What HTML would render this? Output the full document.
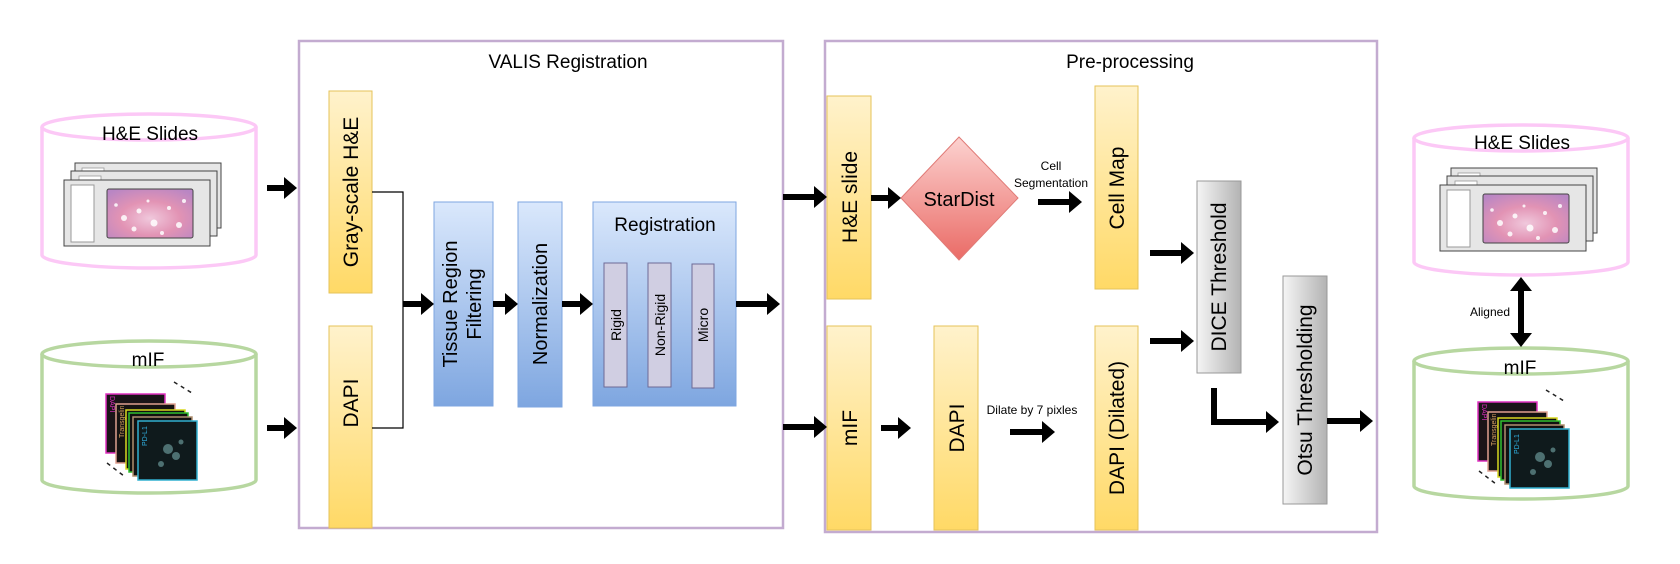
<!DOCTYPE html>
<html><head><meta charset="utf-8"><style>
html,body{margin:0;padding:0;background:#fff;}
svg{display:block;font-family:"Liberation Sans",Arial,sans-serif;}
</style></head><body>
<svg width="1680" height="564" viewBox="0 0 1680 564" xmlns="http://www.w3.org/2000/svg">
<defs>
<linearGradient id="yel" x1="0" y1="0" x2="0" y2="1"><stop offset="0" stop-color="#fff2cc"/><stop offset="1" stop-color="#ffd966"/></linearGradient>
<linearGradient id="blu" x1="0" y1="0" x2="0" y2="1"><stop offset="0" stop-color="#dae8fc"/><stop offset="1" stop-color="#7ea6e0"/></linearGradient>
<linearGradient id="gry" x1="0" y1="0" x2="1" y2="0"><stop offset="0" stop-color="#f5f5f5"/><stop offset="1" stop-color="#b3b3b3"/></linearGradient>
<linearGradient id="red" x1="0" y1="0" x2="0" y2="1"><stop offset="0" stop-color="#fcd2d0"/><stop offset="1" stop-color="#ea6b66"/></linearGradient>
<radialGradient id="tis" cx="0.5" cy="0.6" r="0.7"><stop offset="0" stop-color="#f0c8dc"/><stop offset="0.5" stop-color="#e293b4"/><stop offset="1" stop-color="#b986c4"/></radialGradient>
<g id="slides">
  <rect x="11" y="0" width="146" height="65" fill="#e6e6e6" stroke="#444" stroke-width="1"/>
  <rect x="18" y="5" width="22" height="5" fill="#fff" stroke="#999" stroke-width="0.8"/>
  <rect x="7" y="8" width="146" height="65" fill="#e6e6e6" stroke="#444" stroke-width="1"/>
  <rect x="15" y="13" width="22" height="5" fill="#fff" stroke="#999" stroke-width="0.8"/>
  <rect x="0" y="17" width="146" height="66" fill="#e6e6e6" stroke="#444" stroke-width="1"/>
  <rect x="7" y="22" width="23" height="57" fill="#fff" stroke="#999" stroke-width="1"/>
  <rect x="43" y="26" width="86" height="49" rx="2" fill="url(#tis)" stroke="#444" stroke-width="1"/>
  <g fill="#fff" opacity="0.85">
    <circle cx="60" cy="55" r="3"/><circle cx="75" cy="48" r="2.5"/><circle cx="90" cy="60" r="3.5"/><circle cx="105" cy="45" r="2"/><circle cx="115" cy="62" r="3"/><circle cx="70" cy="66" r="2.5"/><circle cx="98" cy="70" r="2"/><circle cx="120" cy="38" r="2"/><circle cx="52" cy="42" r="1.8"/><circle cx="84" cy="38" r="1.5"/>
  </g>
</g>
<g id="mif">
  <rect x="0" y="0" width="59" height="59" fill="#1a1418" stroke="#e030c0" stroke-width="1.5"/>
  <text transform="translate(4,2) rotate(90)" font-size="7" fill="#e030c0">DAPI</text>
  <rect x="10" y="10" width="59" height="59" fill="#151212" stroke="#e0a090" stroke-width="1.5"/>
  <text transform="translate(18,44) rotate(-90)" font-size="7" fill="#d8a060">Transgelin</text>
  <rect x="20" y="16" width="59" height="59" fill="#111" stroke="#d8d820" stroke-width="1.5"/>
  <rect x="23" y="19" width="59" height="59" fill="#111" stroke="#30c030" stroke-width="1.5"/>
  <rect x="27" y="23" width="59" height="59" fill="#111" stroke="#b09070" stroke-width="1.5"/>
  <rect x="32" y="27" width="59" height="59" fill="#0f1a1c" stroke="#30b0d0" stroke-width="1.5"/>
  <text transform="translate(41,52) rotate(-90)" font-size="7" fill="#30b0e0">PD-L1</text>
  <g fill="#7aa" opacity="0.6"><circle cx="62" cy="55" r="5"/><circle cx="70" cy="62" r="4"/><circle cx="55" cy="70" r="3"/><circle cx="75" cy="48" r="2.5"/></g>
  <g stroke="#222" stroke-width="1.5" stroke-dasharray="4,4"><line x1="68" y1="-12" x2="86" y2="-1"/><line x1="1" y1="69" x2="18" y2="82"/></g>
</g>
</defs>

<!-- Left cylinders -->
<g fill="none" stroke="#fcc8f6" stroke-width="3.5">
  <path d="M42 127 L42 255 A107 13 0 0 0 256 255 L256 127"/>
  <ellipse cx="149" cy="127" rx="107" ry="13"/>
</g>
<text x="150" y="140" font-size="19" text-anchor="middle">H&amp;E Slides</text>
<use href="#slides" x="64" y="163"/>
<g fill="none" stroke="#b7d7a0" stroke-width="3.5">
  <path d="M42 354 L42 480 A107 13 0 0 0 256 480 L256 354"/>
  <ellipse cx="149" cy="354" rx="107" ry="13"/>
</g>
<text x="148" y="366" font-size="19" text-anchor="middle">mIF</text>
<use href="#mif" x="106" y="394"/>

<!-- Right cylinders -->
<g fill="none" stroke="#fcc8f6" stroke-width="3.5">
  <path d="M1414 138 L1414 262 A107 13 0 0 0 1628 262 L1628 138"/>
  <ellipse cx="1521" cy="138" rx="107" ry="13"/>
</g>
<text x="1522" y="149" font-size="19" text-anchor="middle">H&amp;E Slides</text>
<use href="#slides" x="1440" y="168"/>
<g fill="none" stroke="#b7d7a0" stroke-width="3.5">
  <path d="M1414 361 L1414 486 A107 13 0 0 0 1628 486 L1628 361"/>
  <ellipse cx="1521" cy="361" rx="107" ry="13"/>
</g>
<text x="1520" y="374" font-size="19" text-anchor="middle">mIF</text>
<use href="#mif" x="1478" y="402"/>
<!-- Aligned double arrow -->
<line x1="1521" y1="290" x2="1521" y2="334" stroke="#000" stroke-width="6"/>
<polygon points="1521,277 1532,291 1510,291" fill="#000"/>
<polygon points="1521,347 1532,333 1510,333" fill="#000"/>
<text x="1510" y="316" font-size="12" text-anchor="end">Aligned</text>

<!-- VALIS box -->
<rect x="299" y="41" width="484" height="487" fill="none" stroke="#c3abd0" stroke-width="2.5"/>
<text x="568" y="68" font-size="19" text-anchor="middle">VALIS Registration</text>
<rect x="329" y="91" width="43" height="202" fill="url(#yel)" stroke="#e6c35a" stroke-width="1"/>
<text transform="translate(358,192) rotate(-90)" font-size="21" text-anchor="middle">Gray-scale H&amp;E</text>
<rect x="329" y="326" width="43" height="202" fill="url(#yel)" stroke="#e6c35a" stroke-width="1"/>
<text transform="translate(358,403) rotate(-90)" font-size="21" text-anchor="middle">DAPI</text>
<polyline points="372,192 403,192 403,428 372,428" fill="none" stroke="#000" stroke-width="1.2"/>
<rect x="434" y="202" width="59" height="204" fill="url(#blu)" stroke="#7ea6e0" stroke-width="1"/>
<text transform="translate(457,304) rotate(-90)" font-size="20" text-anchor="middle">Tissue Region</text>
<text transform="translate(481,304) rotate(-90)" font-size="20" text-anchor="middle">Filtering</text>
<rect x="518" y="202" width="44" height="205" fill="url(#blu)" stroke="#7ea6e0" stroke-width="1"/>
<text transform="translate(547,304) rotate(-90)" font-size="20" text-anchor="middle">Normalization</text>
<rect x="593" y="202" width="143" height="204" fill="url(#blu)" stroke="#7ea6e0" stroke-width="1"/>
<text x="665" y="231" font-size="19" text-anchor="middle">Registration</text>
<rect x="604" y="263" width="23" height="124" fill="#d0cee2" stroke="#6e6a96" stroke-width="1"/>
<text transform="translate(621,325) rotate(-90)" font-size="14" text-anchor="middle">Rigid</text>
<rect x="648" y="263" width="23" height="124" fill="#d0cee2" stroke="#6e6a96" stroke-width="1"/>
<text transform="translate(665,325) rotate(-90)" font-size="14" text-anchor="middle">Non-Rigid</text>
<rect x="692" y="264" width="22" height="124" fill="#d0cee2" stroke="#6e6a96" stroke-width="1"/>
<text transform="translate(708,325) rotate(-90)" font-size="14" text-anchor="middle">Micro</text>

<!-- Pre-processing box -->
<rect x="825" y="41" width="552" height="491" fill="none" stroke="#c3abd0" stroke-width="2.5"/>
<text x="1130" y="68" font-size="19" text-anchor="middle">Pre-processing</text>
<rect x="827" y="96" width="44" height="203" fill="url(#yel)" stroke="#e6c35a" stroke-width="1"/>
<text transform="translate(857,197) rotate(-90)" font-size="21" text-anchor="middle">H&amp;E slide</text>
<rect x="827" y="326" width="44" height="204" fill="url(#yel)" stroke="#e6c35a" stroke-width="1"/>
<text transform="translate(857,428) rotate(-90)" font-size="21" text-anchor="middle">mIF</text>
<polygon points="959,137 1018,198 959,260 901,198" fill="url(#red)" stroke="#e07a76" stroke-width="1"/>
<text x="959" y="206" font-size="20" text-anchor="middle">StarDist</text>
<text x="1051" y="170" font-size="12" text-anchor="middle">Cell</text>
<text x="1051" y="187" font-size="12" text-anchor="middle">Segmentation</text>
<rect x="1095" y="86" width="43" height="203" fill="url(#yel)" stroke="#e6c35a" stroke-width="1"/>
<text transform="translate(1124,188) rotate(-90)" font-size="21" text-anchor="middle">Cell Map</text>
<rect x="934" y="326" width="44" height="204" fill="url(#yel)" stroke="#e6c35a" stroke-width="1"/>
<text transform="translate(964,428) rotate(-90)" font-size="21" text-anchor="middle">DAPI</text>
<text x="1032" y="414" font-size="12" text-anchor="middle">Dilate by 7 pixles</text>
<rect x="1095" y="326" width="43" height="204" fill="url(#yel)" stroke="#e6c35a" stroke-width="1"/>
<text transform="translate(1124,428) rotate(-90)" font-size="21" text-anchor="middle">DAPI (Dilated)</text>
<rect x="1197" y="181" width="44" height="192" fill="url(#gry)" stroke="#999" stroke-width="1"/>
<text transform="translate(1226,277) rotate(-90)" font-size="21" text-anchor="middle">DICE Threshold</text>
<rect x="1283" y="276" width="44" height="228" fill="url(#gry)" stroke="#999" stroke-width="1"/>
<text transform="translate(1312,390) rotate(-90)" font-size="21" text-anchor="middle">Otsu Thresholding</text>

<!-- Arrows -->
<g fill="#000" stroke="#000">
<line x1="267" y1="188" x2="285" y2="188" stroke-width="6"/><polygon stroke="none" points="284,177 297,188 284,199"/>
<line x1="267" y1="428" x2="285" y2="428" stroke-width="6"/><polygon stroke="none" points="284,417 297,428 284,439"/>
<line x1="403" y1="304" x2="422" y2="304" stroke-width="6"/><polygon stroke="none" points="421,293 434,304 421,315"/>
<line x1="493" y1="304" x2="506" y2="304" stroke-width="6"/><polygon stroke="none" points="505,293 518,304 505,315"/>
<line x1="562" y1="304" x2="581" y2="304" stroke-width="6"/><polygon stroke="none" points="580,293 593,304 580,315"/>
<line x1="736" y1="304" x2="768" y2="304" stroke-width="6"/><polygon stroke="none" points="767,293 780,304 767,315"/>
<line x1="783" y1="197" x2="815" y2="197" stroke-width="6"/><polygon stroke="none" points="814,186 827,197 814,208"/>
<line x1="783" y1="427" x2="815" y2="427" stroke-width="6"/><polygon stroke="none" points="814,416 827,427 814,438"/>
<line x1="871" y1="198" x2="889" y2="198" stroke-width="6"/><polygon stroke="none" points="888,187 901,198 888,209"/>
<line x1="1038" y1="202" x2="1070" y2="202" stroke-width="6"/><polygon stroke="none" points="1069,191 1082,202 1069,213"/>
<line x1="881" y1="428" x2="899" y2="428" stroke-width="6"/><polygon stroke="none" points="898,417 911,428 898,439"/>
<line x1="1010" y1="432" x2="1043" y2="432" stroke-width="6"/><polygon stroke="none" points="1042,421 1055,432 1042,443"/>
<line x1="1150" y1="253" x2="1182" y2="253" stroke-width="6"/><polygon stroke="none" points="1181,242 1194,253 1181,264"/>
<line x1="1150" y1="341" x2="1182" y2="341" stroke-width="6"/><polygon stroke="none" points="1181,330 1194,341 1181,352"/>
<polyline points="1214,388 1214,422 1267,422" fill="none" stroke-width="6"/><polygon stroke="none" points="1266,411 1279,422 1266,433"/>
<line x1="1327" y1="421" x2="1361" y2="421" stroke-width="6"/><polygon stroke="none" points="1360,410 1373,421 1360,432"/>
</g>
</svg>
</body></html>
